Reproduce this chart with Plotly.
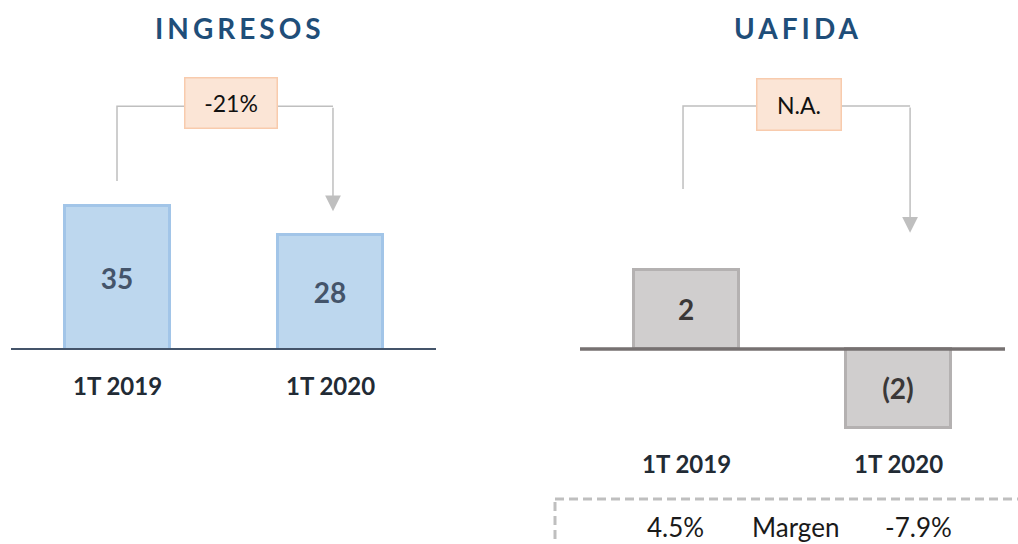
import plotly.graph_objects as go

# ---------------- data ----------------
categories = ["1T 2019", "1T 2020"]
ingresos = [35, 28]
ingresos_labels = ["35", "28"]
uafida = [2, -2]
uafida_labels = ["2", "(2)"]
variacion = ["-21%", "N.A."]
margen_label = "Margen"
margenes = ["4.5%", "-7.9%"]
titles = ["INGRESOS", "UAFIDA"]

# ---------------- layout helpers ----------------
W, H = 1018, 544
FONT = "Lato"


def px(x):
    return x / W


def py(y):
    return 1 - y / H


# left panel geometry (pixels)
L_X0, L_X1, L_BASE, L_TOP = 11, 436, 350, 60
L_SCALE = 4.12          # px per unit
L_CAT_PX = 213          # px between categories
L_XMIN = -(117 - L_X0) / L_CAT_PX
L_XMAX = L_XMIN + (L_X1 - L_X0) / L_CAT_PX

# right panel geometry (pixels)
R_X0, R_X1, R_BASE, R_TOP, R_BOT = 580, 1005, 349, 60, 480
R_SCALE = 39.5
R_CAT_PX = 212
R_XMIN = -(686 - R_X0) / R_CAT_PX
R_XMAX = R_XMIN + (R_X1 - R_X0) / R_CAT_PX

fig = go.Figure()

fig.add_trace(go.Bar(
    x=[0, 1], y=ingresos, width=105 / L_CAT_PX,
    marker=dict(color="#BDD7EE", line=dict(color="#A2C5E8", width=3)),
    text=ingresos_labels, textposition="inside", insidetextanchor="middle",
    textangle=0,
    textfont=dict(family=FONT, size=28, color="#44546A", weight="bold"),
    xaxis="x", yaxis="y", hoverinfo="skip", showlegend=False,
))

fig.add_trace(go.Bar(
    x=[0, 1], y=uafida, width=105 / R_CAT_PX,
    marker=dict(color="#D0CECE", line=dict(color="#B4B1B1", width=3)),
    text=uafida_labels, textposition="inside", insidetextanchor="middle",
    textangle=0,
    textfont=dict(family=FONT, size=28, color="#3B3838", weight="bold"),
    xaxis="x2", yaxis="y2", hoverinfo="skip", showlegend=False,
))

# connectors (data units of each panel)
CONN = "#BFBFBF"
l_start = ingresos[0] + 6
l_level = max(ingresos) * 1.69
l_tip = ingresos[1] + 5.7
l_endx = 1.014
fig.add_trace(go.Scatter(x=[0, 0, l_endx], y=[l_start, l_level, l_level], mode="lines",
                         line=dict(color=CONN, width=1.5), xaxis="x", yaxis="y",
                         hoverinfo="skip", showlegend=False))
r_start = uafida[0] + 2.05
r_level = 6.15
r_tip = 2.94
r_endx = 1.057
fig.add_trace(go.Scatter(x=[-0.014, -0.014, r_endx], y=[r_start, r_level, r_level], mode="lines",
                         line=dict(color=CONN, width=1.5), xaxis="x2", yaxis="y2",
                         hoverinfo="skip", showlegend=False))

annotations = []
for (xr, yr, ex, lvl, tip) in [("x", "y", l_endx, l_level, l_tip), ("x2", "y2", r_endx, r_level, r_tip)]:
    annotations.append(dict(x=ex, y=tip, ax=ex, ay=lvl, xref=xr, yref=yr, axref=xr, ayref=yr,
                            text="", showarrow=True, arrowhead=2, arrowsize=2.1,
                            arrowwidth=1.5, arrowcolor=CONN, standoff=0))

# variation boxes
for (xr, yr, bx, by, w, h, txt) in [("x", "y", 0.533, (L_BASE - 102.5) / L_SCALE, 91, 49, variacion[0]),
                                     ("x2", "y2", 0.531, (R_BASE - 104) / R_SCALE, 83, 50, variacion[1])]:
    annotations.append(dict(x=bx, y=by, xref=xr, yref=yr, text=txt, showarrow=False,
                            width=w, height=h, bgcolor="#FBE5D6", bordercolor="#F8CBAD",
                            borderwidth=1.5, borderpad=0, align="center", valign="middle",
                            font=dict(family=FONT, size=23, color="#111111")))

# titles
for tx, t in zip([240, 798], titles):
    annotations.append(dict(x=px(tx), y=py(28), xref="paper", yref="paper", showarrow=False,
                            text=f'<span style="letter-spacing:4px">{t}</span>',
                            xanchor="center", yanchor="middle",
                            font=dict(family=FONT, size=28, color="#1F4E79", weight="bold")))

# category labels
for xr, ypix in [("x", 385), ("x2", 463)]:
    for i, c in enumerate(categories):
        annotations.append(dict(x=i, y=py(ypix), xref=xr, yref="paper", text=c, showarrow=False,
                                xanchor="center", yanchor="middle",
                                font=dict(family=FONT, size=24, color="#222B35", weight="bold")))

# margin row
for tx, t in zip([675, 795, 918], [margenes[0], margen_label, margenes[1]]):
    annotations.append(dict(x=px(tx), y=py(527), xref="paper", yref="paper", text=t,
                            showarrow=False, xanchor="center", yanchor="middle",
                            font=dict(family=FONT, size=26, color="#1A1A1A")))

shapes = [
    dict(type="line", xref="x domain", yref="y", x0=0, x1=1, y0=0, y1=0,
         line=dict(color="#44546A", width=4), layer="above"),
    dict(type="line", xref="x2 domain", yref="y2", x0=0, x1=1, y0=0, y1=0,
         line=dict(color="#767171", width=3.5), layer="above"),
    dict(type="rect", xref="paper", yref="paper", x0=px(555), x1=px(1040), y0=py(499), y1=py(580),
         line=dict(color="#BFBFBF", width=3, dash="9px,5px"), fillcolor="rgba(0,0,0,0)"),
]

axis_common = dict(showgrid=False, zeroline=False, showticklabels=False, showline=False,
                   ticks="", fixedrange=True)
fig.update_layout(
    width=W, height=H,
    margin=dict(l=0, r=0, t=0, b=0),
    paper_bgcolor="white", plot_bgcolor="white",
    xaxis=dict(domain=[px(L_X0), px(L_X1)], range=[L_XMIN, L_XMAX], **axis_common),
    yaxis=dict(domain=[py(L_BASE), py(L_TOP)], range=[0, (L_BASE - L_TOP) / L_SCALE], **axis_common),
    xaxis2=dict(domain=[px(R_X0), px(R_X1)], range=[R_XMIN, R_XMAX], anchor="y2", **axis_common),
    yaxis2=dict(domain=[py(R_BOT), py(R_TOP)],
                range=[-(R_BOT - R_BASE) / R_SCALE, (R_BASE - R_TOP) / R_SCALE],
                anchor="x2", **axis_common),
    annotations=annotations,
    shapes=shapes,
    bargap=0,
)

fig.write_html(
    "out.html",
    config={"displayModeBar": False},
    post_script="document.body.style.margin='0';document.body.style.overflow='hidden';",
)
